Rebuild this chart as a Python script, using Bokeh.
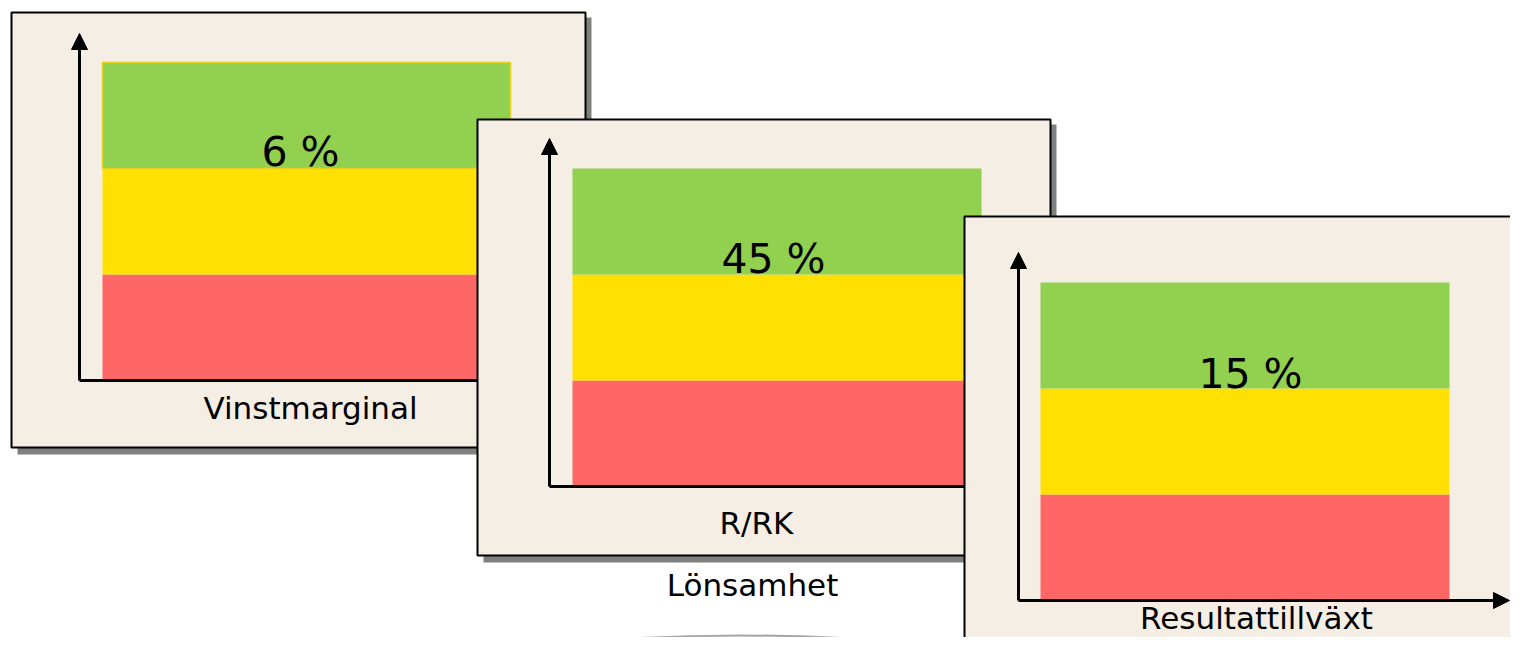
from bokeh.plotting import figure
from bokeh.models import Range1d
from bokeh.core.properties import value
from bokeh.embed import file_html
from bokeh.resources import INLINE

# ---- data ----
categories = ["Vinstmarginal", "R/RK", "Resultattillväxt"]
value_labels = ["6 %", "45 %", "15 %"]
group_label = "Lönsamhet"
band_names = ["Röd", "Gul", "Grön"]          # bottom -> top
band_shares = [1, 1, 1]
band_colors = ["#FF6666", "#FFE000", "#92D050"]

# ---- layout (page pixel coordinates) ----
W, H = 1510, 637
FONT = value("DejaVu Sans")
CREAM = "#F5EEE5"
SHADOW = "#808080"

panels = [
    dict(frame=(11, 12, 585, 447), origin=(79, 380), tip=33, xend=560,
         bands=(102, 62, 510, 380), vpos=(300, 151), cpos=(310, 407), green_edge=True),
    dict(frame=(477, 119, 1050, 555), origin=(549, 486), tip=138, xend=1030,
         bands=(572, 168, 981, 486), vpos=(773, 258), cpos=(756, 522), green_edge=False),
    dict(frame=(964, 216, 1545, 670), origin=(1018, 600), tip=252, xend=1509,
         bands=(1040, 282, 1449, 600), vpos=(1250, 373), cpos=(1256, 617), green_edge=False),
]

p = figure(width=W, height=H, output_backend="svg", toolbar_location=None,
           x_range=Range1d(0, W), y_range=Range1d(H, 0),
           min_border=0, outline_line_color=None, background_fill_color="white",
           border_fill_color="white")
p.axis.visible = False
p.grid.visible = False


def draw_panel(i, pan):
    l, t, r, b = pan["frame"]
    # shadow
    p.quad(left=[l + 6], right=[r + 6], top=[t + 5], bottom=[b + 7],
           fill_color=SHADOW, line_color=None)
    # frame
    p.quad(left=[l], right=[r], top=[t], bottom=[b],
           fill_color=CREAM, line_color="black", line_width=2)
    # bands (stacked shares)
    bl, bt, br, bb = pan["bands"]
    total = sum(band_shares)
    cum = 0
    for name, share, col in zip(band_names, band_shares, band_colors):
        y0 = bb - (bb - bt) * cum / total
        cum += share
        y1 = bb - (bb - bt) * cum / total
        edge = "#E6D020" if (pan["green_edge"] and name == "Grön") else None
        p.quad(left=[bl], right=[br], bottom=[y0], top=[y1],
               fill_color=col, line_color=edge, line_width=1.5)
    # axes
    ox, oy = pan["origin"]
    p.segment(x0=[ox, ox], y0=[oy, oy], x1=[ox, pan["xend"] - 14], y1=[pan["tip"] + 14, oy],
              line_color="black", line_width=3)
    p.patch(x=[ox - 8, ox, ox + 8], y=[pan["tip"] + 16, pan["tip"], pan["tip"] + 16],
            fill_color="black", line_color="black")
    xe = pan["xend"]
    p.patch(x=[xe - 16, xe, xe - 16], y=[oy - 8, oy, oy + 8],
            fill_color="black", line_color="black")
    # value label
    vx, vy = pan["vpos"]
    p.text(x=[vx], y=[vy], text=[value_labels[i]], text_font=FONT, text_font_size="41px",
           text_align="center", text_baseline="middle", text_color="black")
    # category label
    cx, cy = pan["cpos"]
    p.text(x=[cx], y=[cy], text=[categories[i]], text_font=FONT, text_font_size="31px",
           text_align="center", text_baseline="middle", text_color="black")


draw_panel(0, panels[0])

# group label and decorative arc
p.ellipse(x=[740], y=[800], width=1150, height=330,
          fill_color="#F2F2F2", line_color="#A6A6A6", line_width=2)
p.text(x=[752], y=[584], text=[group_label], text_font=FONT, text_font_size="31px",
       text_align="center", text_baseline="middle", text_color="black")

draw_panel(1, panels[1])
draw_panel(2, panels[2])

open("out.html", "w").write(file_html(p, INLINE))
